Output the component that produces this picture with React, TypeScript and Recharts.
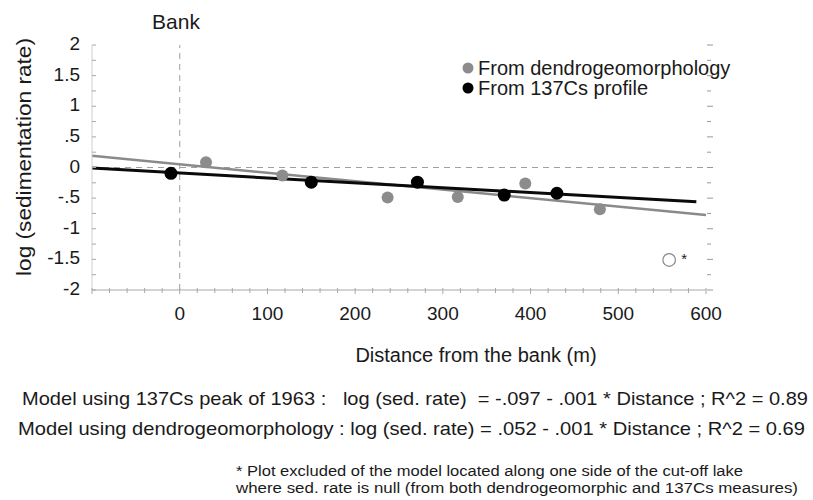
import React from 'react';
import { ComposedChart, Scatter, Line, XAxis, YAxis, ReferenceLine, Legend } from 'recharts';

// measured points (distance in m, log of sedimentation rate)
const dendroX = [30, 117, 237, 317, 394, 479];
const dendroY = [0.085, -0.13, -0.49, -0.48, -0.26, -0.68];
const csX = [-10, 150, 271, 370, 430];
const csY = [-0.095, -0.24, -0.24, -0.45, -0.42];
// plot left out of both models
const excludedX = [558];
const excludedY = [-1.51];

// fitted lines, end points as drawn
const dendroFitX = [-100, 600];
const dendroFitY = [0.19, -0.775];
const csFitX = [-100, 589];
const csFitY = [-0.01, -0.56];

const xTickValues = [0, 100, 200, 300, 400, 500, 600];
const xTickLabels = ['0', '100', '200', '300', '400', '500', '600'];
const yTickValues = [-2, -1.5, -1, -0.5, 0, 0.5, 1, 1.5, 2];
const yTickLabels = ['-2', '-1.5', '-1', '-.5', '0', '.5', '1', '1.5', '2'];

const legendNames = ['From dendrogeomorphology', 'From 137Cs profile'];
const legendColors = ['#8c8c8c', '#000000'];

const modelLines = [
  'Model using 137Cs peak of 1963 :   log (sed. rate)  = -.097 - .001 * Distance ; R^2 = 0.89',
  'Model using dendrogeomorphology : log (sed. rate) = .052 - .001 * Distance ; R^2 = 0.69',
];
const footnote = [
  '* Plot excluded of the model located along one side of the cut-off lake',
  'where sed. rate is null (from both dendrogeomorphic and 137Cs measures)',
];

const zip = (xs: number[], ys: number[]) => xs.map((x, i) => ({ x, y: ys[i] }));

const dendroData = zip(dendroX, dendroY);
const csData = zip(csX, csY);
const excludedData = zip(excludedX, excludedY);
const dendroFit = zip(dendroFitX, dendroFitY);
const csFit = zip(csFitX, csFitY);

// minor ticks every 20 m / every .25
const xMinor: number[] = [];
for (let v = -100; v <= 600; v += 20) xMinor.push(v);
const yMinor: number[] = [];
for (let v = -2; v <= 2; v += 0.25) yMinor.push(v);

const AXIS = '#a8a8a8';
const TEXT = '#1a1a1a';

const BottomTick = (props: any) => {
  const { x, y, payload } = props;
  const i = xTickValues.indexOf(payload.value);
  const major = payload.value % 100 === 0;
  return (
    <g>
      <line x1={x} x2={x} y1={y - 2} y2={y + (major ? 4 : 3)} stroke={AXIS} />
      {i >= 0 && (
        <text x={x} y={y + 30} textAnchor="middle" fontSize={19} fill={TEXT}>
          {xTickLabels[i]}
        </text>
      )}
    </g>
  );
};

const TopTick = (props: any) => {
  const { x, y, payload } = props;
  const major = payload.value % 100 === 0;
  return <line x1={x} x2={x} y1={y - (major ? 3 : 2)} y2={y + 3} stroke={AXIS} />;
};

const LeftTick = (props: any) => {
  const { x, y, payload } = props;
  const i = yTickValues.indexOf(payload.value);
  return (
    <g>
      <line x1={x} x2={x + 4} y1={y} y2={y} stroke={AXIS} />
      {i >= 0 && (
        <text x={x - 12} y={y + 5} textAnchor="end" fontSize={19} fill={TEXT}>
          {yTickLabels[i]}
        </text>
      )}
    </g>
  );
};

const RightTick = (props: any) => {
  const { x, y, payload } = props;
  const major = yTickValues.indexOf(payload.value) >= 0;
  return <line x1={x + 1} x2={x + (major ? 7 : 5)} y1={y} y2={y} stroke="#999" />;
};

const dot = (fill: string, r: number) => (p: any) => <circle cx={p.cx} cy={p.cy} r={r} fill={fill} />;

const excludedDot = (p: any) => (
  <g>
    <circle cx={p.cx} cy={p.cy} r={6.3} fill="#fff" stroke="#888" strokeWidth={1.2} />
    <text x={p.cx + 12} y={p.cy + 4} fontSize={15} fill="#222">*</text>
  </g>
);

const LegendBox = () => (
  <div style={{ fontSize: 20, color: TEXT, lineHeight: '20px' }}>
    {legendNames.map((n, i) => (
      <div key={n} style={{ display: 'flex', alignItems: 'center' }}>
        <svg width={16} height={20}>
          <circle cx={6} cy={10} r={5.5} fill={legendColors[i]} />
        </svg>
        <span>{n}</span>
      </div>
    ))}
  </div>
);

export default function App() {
  return (
    <div
      style={{
        position: 'absolute',
        left: 0,
        top: 0,
        width: 813,
        height: 500,
        background: '#fff',
        fontFamily: '"Liberation Sans", Arial, sans-serif',
      }}
    >
      <ComposedChart width={813} height={500} margin={{ top: 45, right: 97, bottom: 180, left: 32 }}>
        <XAxis
          type="number"
          dataKey="x"
          domain={[-100, 600]}
          ticks={xMinor}
          interval={0}
          tick={BottomTick}
          tickLine={false}
          tickSize={0}
          tickMargin={0}
          height={30}
          stroke={AXIS}
          allowDataOverflow
        />
        <XAxis
          xAxisId="top"
          orientation="top"
          type="number"
          dataKey="x"
          domain={[-100, 600]}
          ticks={xMinor}
          interval={0}
          tick={TopTick}
          tickLine={false}
          tickSize={0}
          tickMargin={0}
          height={0}
          stroke={AXIS}
          allowDataOverflow
        />
        <YAxis
          type="number"
          dataKey="y"
          domain={[-2, 2]}
          ticks={yMinor}
          interval={0}
          tick={LeftTick}
          tickLine={false}
          tickSize={0}
          tickMargin={0}
          width={60}
          stroke="#cfcfcf"
          allowDataOverflow
        />
        <YAxis
          yAxisId="right"
          orientation="right"
          type="number"
          domain={[-2, 2]}
          ticks={yMinor}
          interval={0}
          tick={RightTick}
          tickLine={false}
          axisLine={false}
          tickSize={0}
          tickMargin={0}
          width={10}
          allowDataOverflow
        />
        <ReferenceLine x={0} stroke="#a0a0a0" strokeDasharray="6 5" />
        <ReferenceLine y={0} stroke="#a0a0a0" strokeDasharray="6 5" />
        <Line
          data={dendroFit}
          dataKey="y"
          stroke="#8a8a8a"
          strokeWidth={2.5}
          dot={false}
          activeDot={false}
          isAnimationActive={false}
          legendType="none"
        />
        <Line
          data={csFit}
          dataKey="y"
          stroke="#0a0a0a"
          strokeWidth={3}
          dot={false}
          activeDot={false}
          isAnimationActive={false}
          legendType="none"
        />
        <Scatter data={dendroData} dataKey="y" shape={dot('#8c8c8c', 6)} isAnimationActive={false} />
        <Scatter data={csData} dataKey="y" shape={dot('#000', 6.5)} isAnimationActive={false} />
        <Scatter data={excludedData} dataKey="y" shape={excludedDot} isAnimationActive={false} />
        <Legend
          content={() => <LegendBox />}
          layout="horizontal"
          verticalAlign="middle"
          align="center"
          wrapperStyle={{ top: 58, left: 462, width: 320, height: 40 }}
        />
      </ComposedChart>
      <svg
        width={813}
        height={500}
        style={{ position: 'absolute', left: 0, top: 0, pointerEvents: 'none' }}
        fontFamily='"Liberation Sans", Arial, sans-serif'
        fill={TEXT}
      >
        <text x={176} y={29} textAnchor="middle" fontSize={21}>Bank</text>
        <text
          transform="translate(31,157) rotate(-90)"
          textAnchor="middle"
          fontSize={20}
          textLength={238}
          lengthAdjust="spacingAndGlyphs"
        >
          log (sedimentation rate)
        </text>
        <text x={476} y={362} textAnchor="middle" fontSize={20}>Distance from the bank (m)</text>
        <text x={22} y={405} fontSize={19} textLength={786} lengthAdjust="spacingAndGlyphs" xmlSpace="preserve">
          {modelLines[0]}
        </text>
        <text x={18} y={435} fontSize={19} textLength={787} lengthAdjust="spacingAndGlyphs">
          {modelLines[1]}
        </text>
        <text x={236} y={476} fontSize={15.5} textLength={507} lengthAdjust="spacingAndGlyphs">
          {footnote[0]}
        </text>
        <text x={236} y={493} fontSize={15.5} textLength={562} lengthAdjust="spacingAndGlyphs">
          {footnote[1]}
        </text>
      </svg>
    </div>
  );
}
